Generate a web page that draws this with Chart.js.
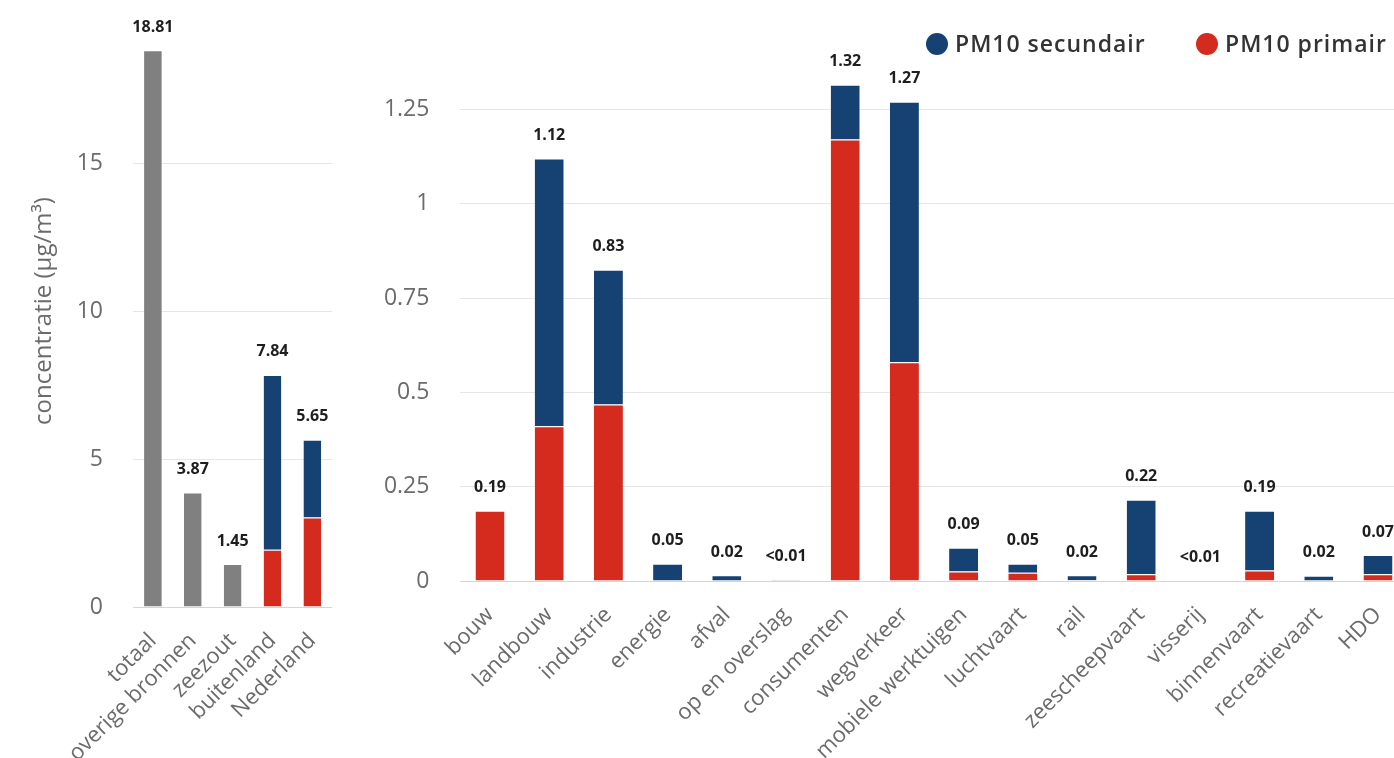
<!DOCTYPE html>
<html><head><meta charset="utf-8">
<script src="https://cdn.jsdelivr.net/npm/chart.js@4.4.1/dist/chart.umd.min.js"></script>
<style>
html,body{margin:0;padding:0;width:1394px;height:758px;overflow:hidden;background:#fff;}
#c1{position:absolute;left:0;top:0;}
#c2{position:absolute;left:345px;top:0;}
.item{position:absolute;top:27px;white-space:nowrap;line-height:30px;font:600 23px "Open Sans",sans-serif;letter-spacing:1px;color:#333;}
.dot{display:inline-block;width:22px;height:22px;border-radius:50%;vertical-align:middle;margin-right:7px;position:relative;top:-2px;}
</style></head><body>
<canvas id="c1" width="345" height="758"></canvas>
<canvas id="c2" width="1070" height="758"></canvas>
<div id="legend"></div>
<script>
// ---- data ----
const leftCategories = ['totaal','overige bronnen','zeezout','buitenland','Nederland'];
const leftGray = [18.81, 3.87, 1.45, null, null];
const leftPrimair = [null, null, null, 1.93, 3.02];
const leftSecundair = [null, null, null, 5.91, 2.63];
const leftLabels = ['18.81','3.87','1.45','7.84','5.65'];
const leftTicks = [0, 5, 10, 15];

const rightCategories = ['bouw','landbouw','industrie','energie','afval','op en overslag','consumenten','wegverkeer','mobiele werktuigen','luchtvaart','rail','zeescheepvaart','visserij','binnenvaart','recreatievaart','HDO'];
const rightPrimair = [0.186, 0.41, 0.468, 0, 0.001, 0.002, 1.17, 0.58, 0.025, 0.022, 0.002, 0.018, 0.001, 0.028, 0.001, 0.018];
const rightSecundair = [0, 0.71, 0.357, 0.046, 0.014, 0.001, 0.145, 0.69, 0.063, 0.024, 0.013, 0.197, 0.001, 0.158, 0.013, 0.051];
const rightLabels = ['0.19','1.12','0.83','0.05','0.02','<0.01','1.32','1.27','0.09','0.05','0.02','0.22','<0.01','0.19','0.02','0.07'];
const rightTicks = [0, 0.25, 0.5, 0.75, 1, 1.25];

const seriesNames = ['PM10 primair', 'PM10 secundair'];
const yTitle = 'concentratie (µg/m³)';

// ---- styles ----
const RED = '#d52b1e', BLUE = '#154273', GRAY = '#808080';
const FONT = '"Open Sans", sans-serif';
const TICK_COLOR = '#6b6b6b';

const totalLabels = {
  id: 'totalLabels',
  afterDatasetsDraw(chart, args, opts) {
    const ctx = chart.ctx, xs = chart.scales.x, ys = chart.scales.y;
    ctx.save();
    ctx.font = 'bold 16px ' + FONT;
    ctx.fillStyle = '#1e1e1e';
    ctx.textAlign = 'center';
    ctx.textBaseline = 'middle';
    opts.labels.forEach((txt, i) => {
      let total = 0;
      chart.data.datasets.forEach(ds => { total += ds.data[i] || 0; });
      ctx.fillText(txt, xs.getPixelForValue(i), ys.getPixelForValue(total) - opts.offset);
    });
    ctx.restore();
  }
};

function yScale(max, ticks, width, gap, title) {
  return {
    stacked: true, min: 0, max: max,
    afterBuildTicks: s => { s.ticks = ticks.map(v => ({value: v})); },
    afterFit: s => { s.width = width; },
    border: {display: false},
    grid: {drawTicks: true, tickLength: gap, tickColor: 'rgba(0,0,0,0)',
           color: c => (c.tick && c.tick.value === 0) ? '#ccd6eb' : '#e6e6e6', lineWidth: 1},
    ticks: {padding: 0, color: TICK_COLOR, font: {family: FONT, size: 23}, callback: v => String(v)},
    title: title ? {display: true, text: title, color: TICK_COLOR, font: {family: FONT, size: 24}, padding: {top: 30, bottom: 0}} : {display: false}
  };
}
function xScale(height) {
  return {
    stacked: true,
    afterFit: s => { s.height = height; },
    border: {display: false},
    grid: {display: false},
    ticks: {autoSkip: false, maxRotation: 45, minRotation: 45, padding: 13, color: TICK_COLOR, font: {family: FONT, size: 22}}
  };
}
const barDefaults = {borderColor: '#ffffff', borderWidth: {top: 1, left: 0, right: 0, bottom: 0}, borderSkipped: false, categoryPercentage: 1};

new Chart(document.getElementById('c1'), {
  type: 'bar',
  data: {
    labels: leftCategories,
    datasets: [
      Object.assign({label: 'totaal', data: leftGray, backgroundColor: GRAY, barPercentage: 0.445}, barDefaults),
      Object.assign({label: seriesNames[0], data: leftPrimair, backgroundColor: RED, barPercentage: 0.445}, barDefaults),
      Object.assign({label: seriesNames[1], data: leftSecundair, backgroundColor: BLUE, barPercentage: 0.445}, barDefaults)
    ]
  },
  options: {
    responsive: false, animation: false, devicePixelRatio: 1,
    layout: {padding: {top: 15, right: 10, bottom: 0, left: 0}},
    plugins: {legend: {display: false}, tooltip: {enabled: false}, totalLabels: {labels: leftLabels, offset: 23}},
    scales: {x: xScale(151), y: yScale(20, leftTicks, 133, 30, yTitle)}
  },
  plugins: [totalLabels]
});

new Chart(document.getElementById('c2'), {
  type: 'bar',
  data: {
    labels: rightCategories,
    datasets: [
      Object.assign({label: seriesNames[0], data: rightPrimair, backgroundColor: RED, barPercentage: 0.49}, barDefaults),
      Object.assign({label: seriesNames[1], data: rightSecundair, backgroundColor: BLUE, barPercentage: 0.49}, barDefaults)
    ]
  },
  options: {
    responsive: false, animation: false, devicePixelRatio: 1,
    layout: {padding: {top: 15, right: 7.4, bottom: 0, left: 0}},
    plugins: {legend: {display: false}, tooltip: {enabled: false}, totalLabels: {labels: rightLabels, offset: 23}},
    scales: {x: xScale(177), y: yScale(1.5, rightTicks, 115.4, 31, null)}
  },
  plugins: [totalLabels]
});

// HTML legend (secundair first, as in the original)
const legendItems = [{name: seriesNames[1], color: BLUE, left: 926}, {name: seriesNames[0], color: RED, left: 1196}];
const lg = document.getElementById('legend');
legendItems.forEach(it => {
  const d = document.createElement('div');
  d.className = 'item';
  d.style.left = it.left + 'px';
  const dot = document.createElement('span');
  dot.className = 'dot';
  dot.style.background = it.color;
  d.appendChild(dot);
  d.appendChild(document.createTextNode(it.name));
  lg.appendChild(d);
});
</script>
</body></html>
